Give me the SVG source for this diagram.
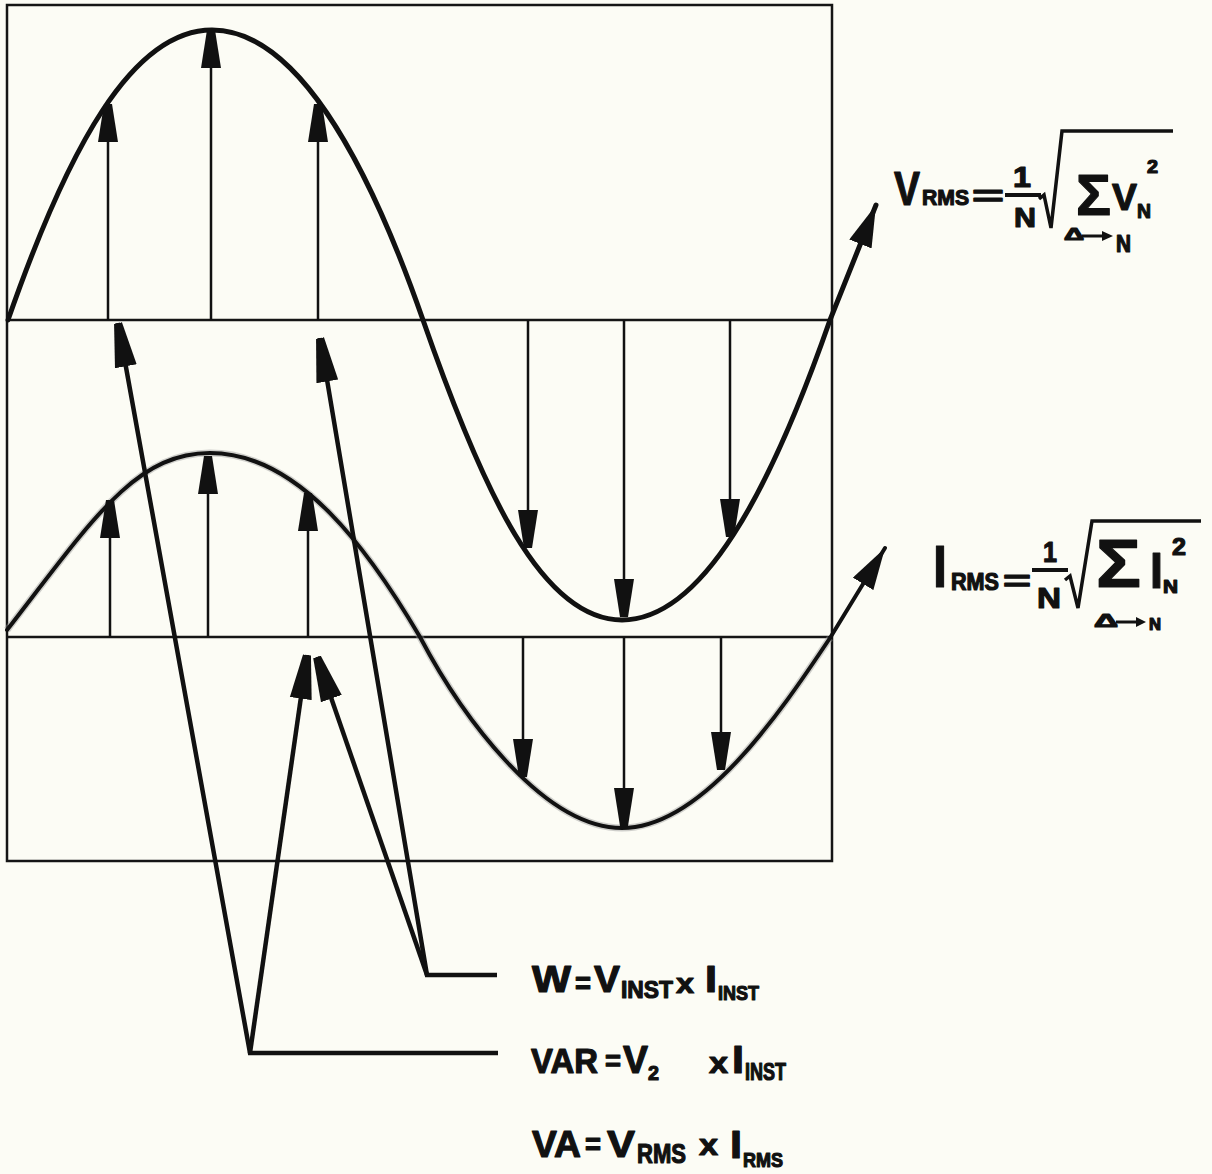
<svg xmlns="http://www.w3.org/2000/svg" width="1212" height="1174" viewBox="0 0 1212 1174">
<style>
  .bg{fill:#fcfcf5}
  .frame{fill:none;stroke:#151515;stroke-width:2.5}
  .axis{stroke:#151515;stroke-width:2.5}
  .wave{fill:none;stroke:#111;stroke-linecap:round;stroke-linejoin:round}
  .v{stroke-width:5;marker-end:url(#tri)}
  .i{stroke-width:4;marker-end:url(#tri)}
  .ishadow{fill:none;stroke:#9a9a9a;stroke-width:7;opacity:0.45}
  .samp{stroke:#111;stroke-width:2.5;marker-end:url(#head)}
  .ptr{fill:none;stroke:#111;stroke-width:4.5;stroke-linejoin:miter;marker-end:url(#phead)}
  .rad{fill:none;stroke:#111;stroke-width:3.5;stroke-linejoin:miter}
  .bar{stroke:#111;stroke-width:4}
  .sm{stroke:#111;stroke-width:3}
  text{font-family:"Liberation Sans Narrow","Liberation Sans",Arial,sans-serif;font-weight:bold;fill:#111;stroke:#111;stroke-width:1.2;paint-order:stroke;stroke-linejoin:round}
</style>
<defs>
  <marker id="head" markerUnits="userSpaceOnUse" viewBox="0 -11 38 22" markerWidth="38" markerHeight="22" refX="38" refY="0" orient="auto">
    <path d="M0,-10 L38,-4 L38,4 L0,10 Z" fill="#111"/>
  </marker>
  <marker id="phead" markerUnits="userSpaceOnUse" viewBox="0 -12 44 24" markerWidth="44" markerHeight="24" refX="44" refY="0" orient="auto">
    <path d="M0,-11 L44,-4 L44,4 L0,11 Z" fill="#111"/>
  </marker>
  <marker id="tri" markerUnits="userSpaceOnUse" viewBox="0 -12 42 24" markerWidth="42" markerHeight="24" refX="42" refY="0" orient="auto">
    <path d="M0,-12 L42,0 L0,12 Z" fill="#111"/>
  </marker>
</defs>
<rect class="bg" x="0" y="0" width="1212" height="1174"/>

<g id="frame">
  <rect class="frame" x="7" y="5" width="825" height="856"/>
  <line class="axis" x1="7" y1="320" x2="832" y2="320"/>
  <line class="axis" x1="7" y1="637" x2="832" y2="637"/>
</g>

<g id="voltage-wave">
  <path class="wave v" d="M8,320 C68,148 132,30 212,30 C292,30 363,148 423,320 C483,492 542,620 622,620 C702,620 770,492 830,320 L876,205"/>
</g>

<g id="current-wave">
  <path class="ishadow" d="M7,630 C92,520 135,453 210,453 C300,453 370,552 420,637 C460,713 542,828 622,828 C702,828 780,713 830,638"/>
  <path class="wave i" d="M7,630 C92,520 135,453 210,453 C300,453 370,552 420,637 C460,713 542,828 622,828 C702,828 780,713 830,638 L885,548"/>
</g>

<g id="voltage-samples">
  <line class="samp" x1="108" y1="320" x2="108" y2="104"/>
  <line class="samp" x1="211" y1="320" x2="211" y2="30"/>
  <line class="samp" x1="318" y1="320" x2="318" y2="104"/>
  <line class="samp" x1="528" y1="320" x2="528" y2="548"/>
  <line class="samp" x1="624" y1="320" x2="624" y2="617"/>
  <line class="samp" x1="730" y1="320" x2="730" y2="537"/>
</g>

<g id="current-samples">
  <line class="samp" x1="110" y1="637" x2="110" y2="500"/>
  <line class="samp" x1="208" y1="637" x2="208" y2="456"/>
  <line class="samp" x1="308" y1="637" x2="308" y2="493"/>
  <line class="samp" x1="523" y1="637" x2="523" y2="777"/>
  <line class="samp" x1="624" y1="637" x2="624" y2="826"/>
  <line class="samp" x1="721" y1="637" x2="721" y2="770"/>
</g>

<g id="connectors">
  <path class="ptr" d="M497,975 L427,975 L320,338"/>
  <path class="ptr" d="M427,975 L317,657"/>
  <path class="ptr" d="M498,1053 L250,1053 L118,323"/>
  <path class="ptr" d="M250,1053 L307,655"/>
</g>

<g id="formula-vrms">
  <text x="894" y="205" font-size="48" textLength="26" lengthAdjust="spacingAndGlyphs">V</text>
  <text x="922" y="205" font-size="22" textLength="47" lengthAdjust="spacingAndGlyphs">RMS</text>
  <text x="972" y="206" font-size="30" textLength="32" lengthAdjust="spacingAndGlyphs">=</text>
  <text x="1013" y="187" font-size="30" textLength="18" lengthAdjust="spacingAndGlyphs">1</text>
  <line class="bar" x1="1005" y1="195" x2="1041" y2="195"/>
  <text x="1014" y="227" font-size="28" textLength="22" lengthAdjust="spacingAndGlyphs">N</text>
  <polyline class="rad" points="1039,199 1044,195 1051,228 1062,131 1173,131"/>
  <text x="1076" y="215" font-size="58" textLength="35" lengthAdjust="spacingAndGlyphs">Σ</text>
  <text x="1112" y="210" font-size="37" textLength="25" lengthAdjust="spacingAndGlyphs">V</text>
  <text x="1137" y="218" font-size="21" textLength="14" lengthAdjust="spacingAndGlyphs">N</text>
  <text x="1147" y="173" font-size="18" textLength="11" lengthAdjust="spacingAndGlyphs">2</text>
  <text x="1064" y="240" font-size="17" textLength="20" lengthAdjust="spacingAndGlyphs">Δ</text>
  <line class="sm" x1="1082" y1="236" x2="1104" y2="236"/>
  <polygon points="1102,231 1113,236 1102,241" fill="#111"/>
  <text x="1116" y="252" font-size="23" textLength="15" lengthAdjust="spacingAndGlyphs">N</text>
</g>

<g id="formula-irms">
  <text x="933" y="587" font-size="60" textLength="14" lengthAdjust="spacingAndGlyphs">I</text>
  <text x="951" y="590" font-size="23" textLength="48" lengthAdjust="spacingAndGlyphs">RMS</text>
  <text x="1003" y="591" font-size="30" textLength="28" lengthAdjust="spacingAndGlyphs">=</text>
  <text x="1043" y="562" font-size="30" textLength="14" lengthAdjust="spacingAndGlyphs">1</text>
  <line class="bar" x1="1032" y1="570" x2="1068" y2="570"/>
  <text x="1037" y="608" font-size="29" textLength="24" lengthAdjust="spacingAndGlyphs">N</text>
  <polyline class="rad" points="1065,580 1070,576 1078,608 1092,521 1201,521"/>
  <text x="1096" y="587" font-size="68" textLength="45" lengthAdjust="spacingAndGlyphs">Σ</text>
  <text x="1150" y="588" font-size="50" textLength="13" lengthAdjust="spacingAndGlyphs">I</text>
  <text x="1163" y="593" font-size="18" textLength="15" lengthAdjust="spacingAndGlyphs">N</text>
  <text x="1172" y="555" font-size="24" textLength="14" lengthAdjust="spacingAndGlyphs">2</text>
  <text x="1094" y="627" font-size="19" textLength="24" lengthAdjust="spacingAndGlyphs">Δ</text>
  <line class="sm" x1="1116" y1="622" x2="1138" y2="622"/>
  <polygon points="1136,617 1146,622 1136,627" fill="#111"/>
  <text x="1149" y="630" font-size="16" textLength="12" lengthAdjust="spacingAndGlyphs">N</text>
</g>

<g id="label-w">
  <text x="532" y="992" font-size="37" textLength="39" lengthAdjust="spacingAndGlyphs">W</text>
  <text x="575" y="994" font-size="32" textLength="16" lengthAdjust="spacingAndGlyphs">=</text>
  <text x="594" y="992" font-size="37" textLength="26" lengthAdjust="spacingAndGlyphs">V</text>
  <text x="621" y="998" font-size="24" textLength="52" lengthAdjust="spacingAndGlyphs">INST</text>
  <text x="676" y="993" font-size="28" textLength="18" lengthAdjust="spacingAndGlyphs">x</text>
  <text x="705" y="992" font-size="37" textLength="12" lengthAdjust="spacingAndGlyphs">I</text>
  <text x="718" y="1000" font-size="21" textLength="41" lengthAdjust="spacingAndGlyphs">INST</text>
</g>

<g id="label-var">
  <text x="531" y="1073" font-size="35" textLength="67" lengthAdjust="spacingAndGlyphs">VAR</text>
  <text x="605" y="1071" font-size="30" textLength="16" lengthAdjust="spacingAndGlyphs">=</text>
  <text x="623" y="1073" font-size="38" textLength="25" lengthAdjust="spacingAndGlyphs">V</text>
  <text x="648" y="1080" font-size="21" textLength="11" lengthAdjust="spacingAndGlyphs">2</text>
  <text x="709" y="1073" font-size="30" textLength="19" lengthAdjust="spacingAndGlyphs">x</text>
  <text x="732" y="1073" font-size="38" textLength="12" lengthAdjust="spacingAndGlyphs">I</text>
  <text x="745" y="1080" font-size="24" textLength="41" lengthAdjust="spacingAndGlyphs">INST</text>
</g>

<g id="label-va">
  <text x="532" y="1157" font-size="37" textLength="49" lengthAdjust="spacingAndGlyphs">VA</text>
  <text x="585" y="1155" font-size="32" textLength="16" lengthAdjust="spacingAndGlyphs">=</text>
  <text x="607" y="1157" font-size="37" textLength="28" lengthAdjust="spacingAndGlyphs">V</text>
  <text x="637" y="1163" font-size="27" textLength="49" lengthAdjust="spacingAndGlyphs">RMS</text>
  <text x="699" y="1155" font-size="30" textLength="19" lengthAdjust="spacingAndGlyphs">x</text>
  <text x="730" y="1158" font-size="38" textLength="12" lengthAdjust="spacingAndGlyphs">I</text>
  <text x="743" y="1167" font-size="21" textLength="40" lengthAdjust="spacingAndGlyphs">RMS</text>
</g>
</svg>
